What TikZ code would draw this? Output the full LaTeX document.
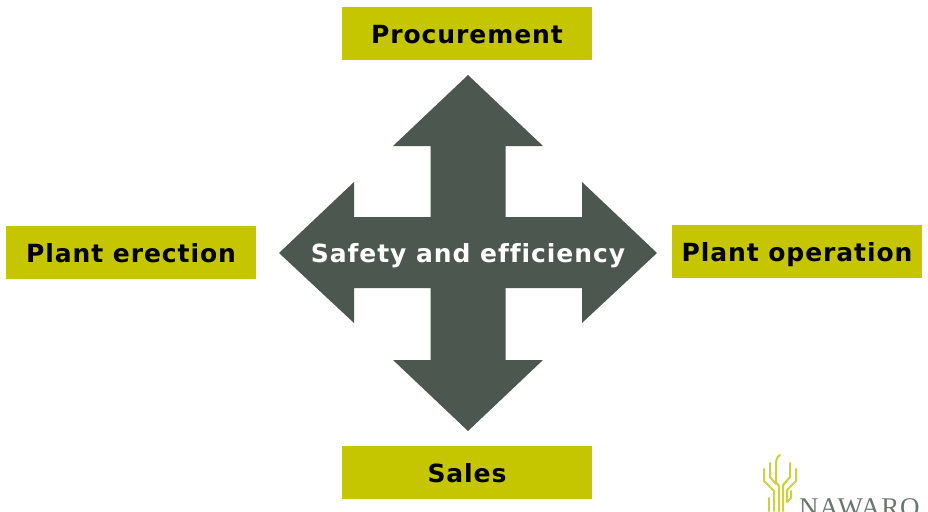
\documentclass[tikz,border=0pt]{standalone}
\usepackage{fontspec}
\setmainfont[LetterSpace=3.7,Ligatures=NoCommon]{DejaVu Sans}
\newfontfamily\logofont[LetterSpace=3]{Liberation Serif}
\definecolor{boxgreen}{HTML}{C6C600}
\definecolor{arrowgrey}{HTML}{4B574F}
\definecolor{logogreen}{HTML}{CFCF45}
\definecolor{logogrey}{HTML}{6B7670}
\tikzset{
  big text/.style={font=\fontsize{25pt}{30pt}\selectfont\bfseries,text height=20pt,text depth=0pt},
  label box/.style={big text,fill=boxgreen,draw=none,minimum width=250pt,minimum height=53pt,inner sep=0pt,
    text=black,anchor=center},
  logo line/.style={draw=logogreen,line width=2pt,line cap=round,line join=round}
}
\begin{document}
\begin{tikzpicture}[x=1pt,y=-1pt]
\useasboundingbox (0,0) rectangle (928,511);
\fill[white] (0,0) rectangle (928,511);
\fill[arrowgrey] (468,75) -- (543,146) -- (505.5,146) -- (505.5,217) -- (582,217) -- (582,182)
  -- (657,253) -- (582,323) -- (582,288) -- (505.5,288) -- (505.5,360) -- (543,360)
  -- (468,431) -- (393,360) -- (430.5,360) -- (430.5,288) -- (354,288) -- (354,323)
  -- (279,253) -- (354,182) -- (354,217) -- (430.5,217) -- (430.5,146) -- (393,146) -- cycle;
\node[big text,text=white,inner sep=0pt] (centre) at (468,252.5) {Safety and efficiency};
\node[label box] (proc) at (467,33.5) {Procurement};
\node[label box] (sales) at (467,472.5) {Sales};
\node[label box] (erect) at (131,252.5) {Plant erection};
\node[label box] (oper) at (797,251.5) {Plant operation};
% logo
\begin{scope}
\clip (0,0) rectangle (928,511);
\draw[logo line] (780,455) .. controls (776,457) and (776,462) .. (776,466) -- (776,482) -- (779,486) -- (779,511);
\draw[logo line] (770,463) -- (770,477) -- (776,484);
\draw[logo line] (764,469) -- (764,481) -- (774,491) -- (774,511);
\draw[logo line] (790,463) -- (790,477) -- (783,485) -- (783,511);
\draw[logo line] (796,469) -- (796,481) -- (787,490) -- (787,502);
\draw[logo line] (791,491) -- (791,498) -- (787,502);
\draw[logo line] (769,498) -- (769,511);
\node[anchor=base west,inner sep=0pt,text=logogrey,font=\logofont\fontsize{27pt}{29pt}\selectfont] (logo) at (799,516) {NAWARO};
\end{scope}
\end{tikzpicture}
\end{document}
